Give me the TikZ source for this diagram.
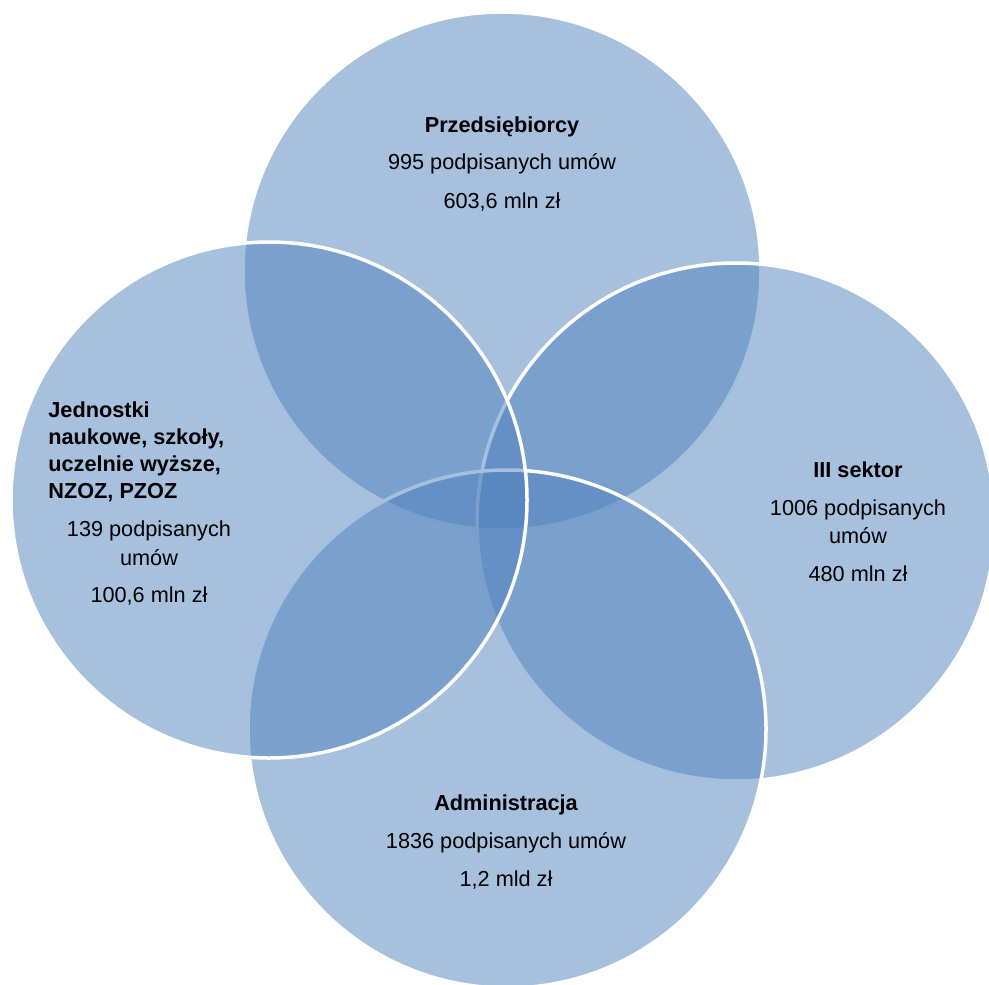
\documentclass[tikz,border=0pt]{standalone}
\usepackage{fontspec}
\setmainfont{Liberation Sans}
\definecolor{vennblue}{HTML}{4F81BD}
\begin{document}
\begin{tikzpicture}[x=0.5pt,y=-0.5pt,
  venn/.style={circle, inner sep=0pt, minimum size=259pt, fill=vennblue, fill opacity=0.5, draw=white, draw opacity=1, line width=1.75pt},
  lbl/.style={anchor=base, inner sep=0pt, font=\fontsize{10.85pt}{13pt}\selectfont},
  hd/.style={anchor=base, inner sep=0pt, font=\fontsize{10.85pt}{13pt}\selectfont\bfseries},
  hdl/.style={anchor=base west, inner sep=0pt, font=\fontsize{10.85pt}{13pt}\selectfont\bfseries}]
\useasboundingbox (0,0) rectangle (989,984);
% circles, in stacking order
\node[venn] (ctop) at (502,271) {};
\node[venn] (cright) at (736,522) {};
\node[venn] (cbottom) at (507,729) {};
\node[venn, minimum size=258pt] (cleft) at (269,500) {};
% top
\node[hd]  (t1) at (502,133) {Przedsiębiorcy};
\node[lbl] (t2) at (502,170) {995 podpisanych umów};
\node[lbl] (t3) at (502,208) {603,6 mln zł};
% right
\node[hd]  (r1) at (858,477) {III sektor};
\node[lbl] (r2) at (858,515) {1006 podpisanych};
\node[lbl] (r3) at (858,543) {umów};
\node[lbl] (r4) at (858,581) {480 mln zł};
% bottom
\node[hd]  (b1) at (506,810) {Administracja};
\node[lbl] (b2) at (506,848) {1836 podpisanych umów};
\node[lbl] (b3) at (506,886) {1,2 mld zł};
% left
\node[hdl] (l1) at (48,417) {Jednostki};
\node[hdl] (l2) at (48,444) {naukowe, szkoły,};
\node[hdl] (l3) at (48,471) {uczelnie wyższe,};
\node[hdl] (l4) at (48,498) {NZOZ, PZOZ};
\node[lbl] (l5) at (149,536) {139 podpisanych};
\node[lbl] (l6) at (149,565) {umów};
\node[lbl] (l7) at (149,602) {100,6 mln zł};
\end{tikzpicture}
\end{document}
